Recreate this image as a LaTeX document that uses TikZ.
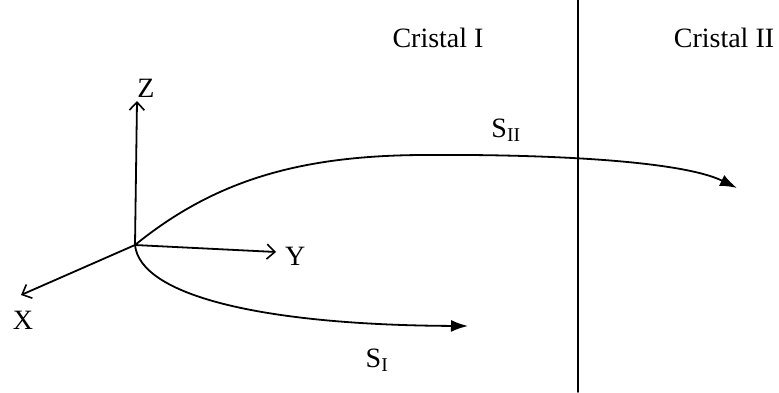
\documentclass[tikz,border=0pt]{standalone}
\usepackage{fontspec}
\setmainfont{Liberation Serif}
\usetikzlibrary{arrows.meta,positioning}

\begin{document}
\begin{tikzpicture}[x=1pt,y=-1pt,line cap=round,line width=1.8pt,font=\fontsize{28}{30}\selectfont,
  axis/.style={-{Straight Barb[length=8pt,width=15pt,line width=1.6pt]}},
  ray/.style={-{Latex[length=17pt,width=12pt]}}]
\useasboundingbox (0,0) rectangle (779,392);
% origin and axes
\coordinate (O) at (135,245);
\coordinate (ztip) at (137,101);
\coordinate (ytip) at (276,252);
\coordinate (xtip) at (21,295);
\draw[axis] (O) -- (ztip);
\draw[axis] (O) -- (ytip);
\draw[axis] (O) -- (xtip);
\node[above=-1pt of ztip,xshift=9pt] (zlab) {Z};
\node[right=5pt of ytip,yshift=-4pt] (ylab) {Y};
\node[below=12pt of xtip,xshift=2pt] (xlab) {X};
% interface between the two crystals
\coordinate (itop) at (578,0);
\coordinate (ibot) at (578,392);
\draw[line width=1.5pt] (itop) -- (ibot);
\node (cr1) at (438,38) {Cristal I};
\node (cr2) at (724,38) {Cristal II};
% rays
\coordinate (s2tip) at (737,188);
\coordinate (s1tip) at (468,326);
\draw[ray] (O) .. controls (215,180) and (300,156) .. (420,155)
  .. controls (540,154) and (680,160) .. (s2tip);
\draw[ray] (O) .. controls (140,295) and (260,325) .. (s1tip);
\node (s2lab) at (506,130) {S\textsubscript{II}};
\node (s1lab) at (377,360) {S\textsubscript{I}};
\end{tikzpicture}
\end{document}
